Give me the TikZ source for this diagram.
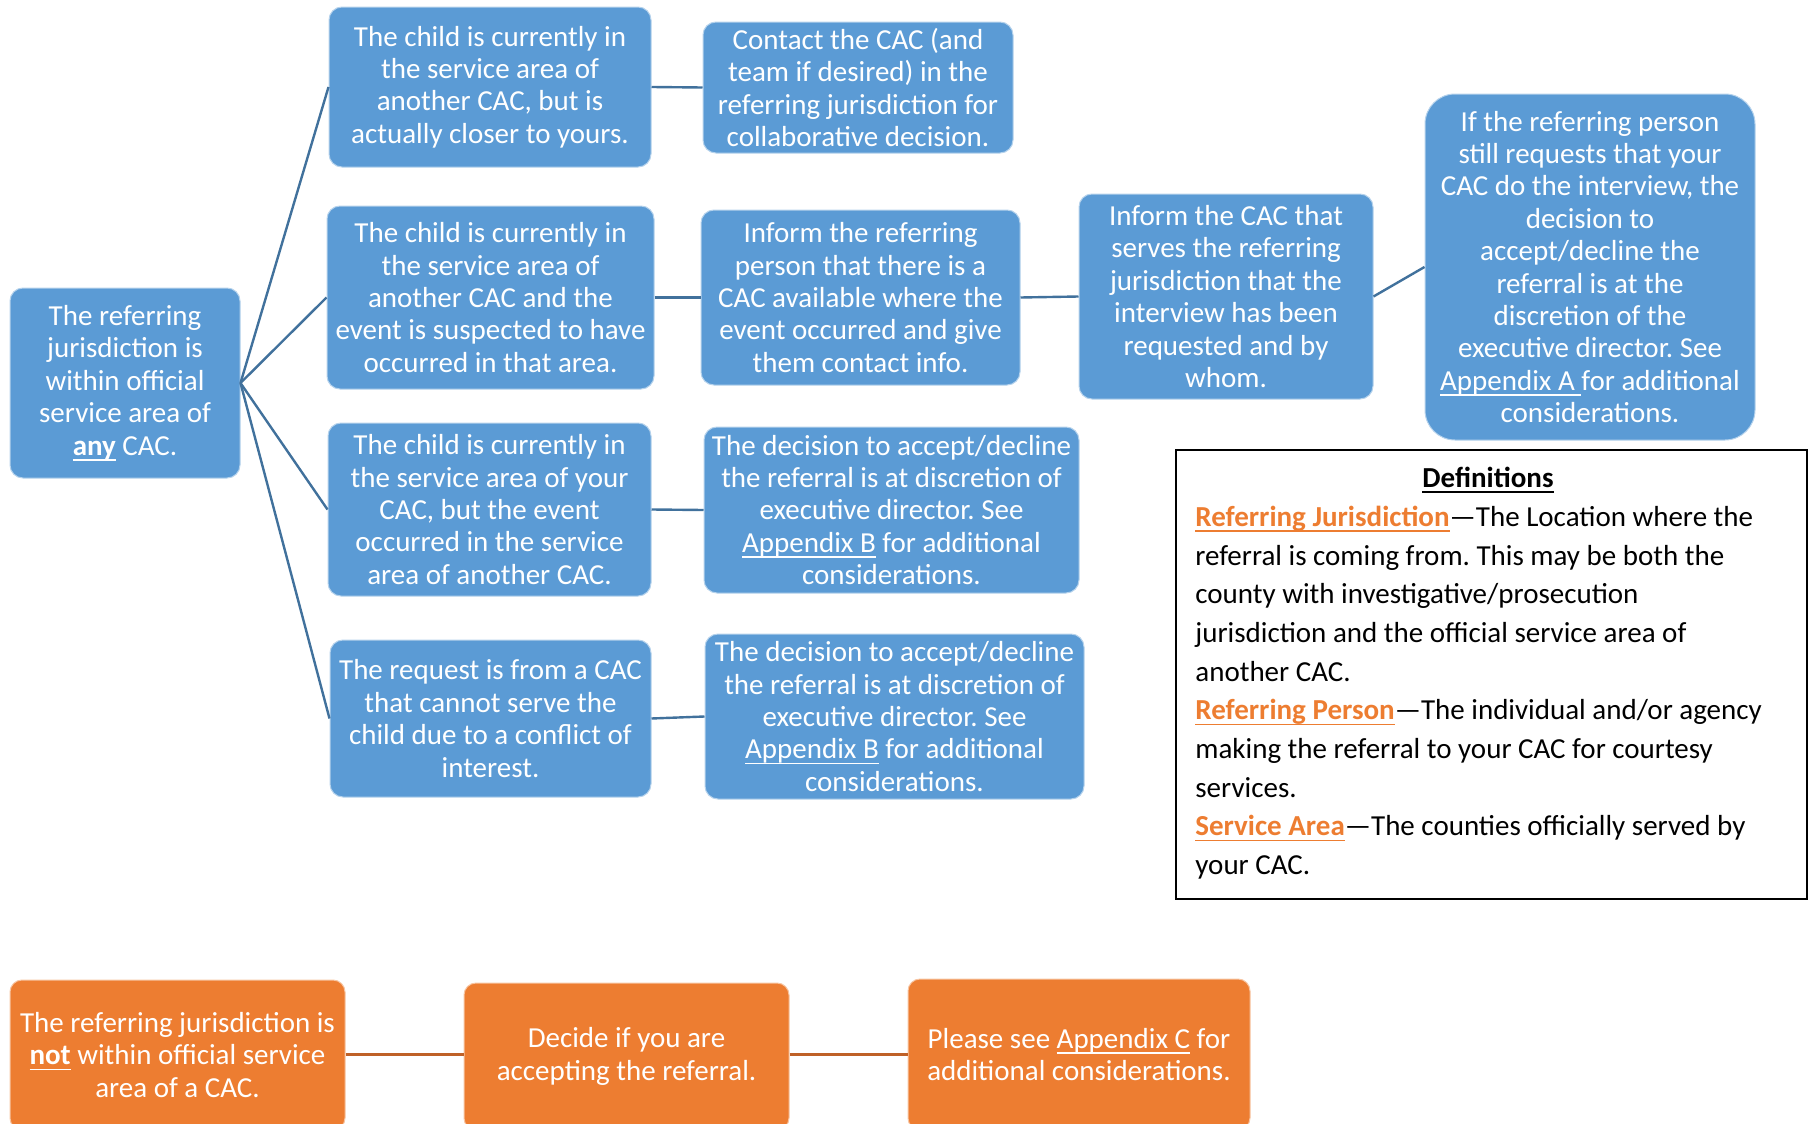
\documentclass[tikz,border=0pt]{standalone}
\usepackage{fontspec}
\setmainfont{Carlito}
\frenchspacing
\definecolor{boxblue}{HTML}{5B9BD5}
\definecolor{lineblue}{HTML}{41719C}
\definecolor{boxorange}{HTML}{ED7D31}
\definecolor{lineorange}{HTML}{BF6128}
\definecolor{termorange}{HTML}{ED7D31}
\newcommand{\myul}[1]{\setbox0\hbox{#1}\leavevmode\rlap{\rule[-2.7pt]{\wd0}{0.75pt}}\box0\relax}
\newcommand{\term}[1]{{\color{termorange}\myul{\textbf{#1}}}}
\tikzset{
  bbox/.style={fill=boxblue, draw=white!55!boxblue, line width=0.5pt, rounded corners=6.5pt,
    text=white, align=center, inner sep=0pt, font=\fontsize{14.5}{16.2}\selectfont\frenchspacing},
  obox/.style={fill=boxorange, draw=white!55!boxorange, line width=0.5pt, rounded corners=6pt,
    text=white, align=center, inner sep=0pt, font=\fontsize{14.5}{16.2}\selectfont\frenchspacing},
  bline/.style={draw=lineblue, line width=1.2pt},
  oline/.style={draw=lineorange, line width=1.5pt},
  defline/.style={anchor=base west, inner sep=0pt, font=\fontsize{14.5}{16.2}\selectfont\frenchspacing},
}
\begin{document}
\begin{tikzpicture}[x=0.5pt,y=-0.5pt]
\path[use as bounding box, clip] (0,0) rectangle (1812,1124);

% blue boxes
\node[bbox, minimum width=115pt, minimum height=95pt] (root) at (125,383)
  {The referring\\jurisdiction is\\within official\\service area of\\\myul{\textbf{any}} CAC.};
\node[bbox, minimum width=161pt, minimum height=80pt] (a1) at (490,87)
  {The child is currently in\\the service area of\\another CAC, but is\\actually closer to yours.};
\node[bbox, minimum width=163.5pt, minimum height=91.5pt] (a2) at (490.5,297.5)
  {The child is currently in\\the service area of\\another CAC and the\\event is suspected to have\\occurred in that area.};
\node[bbox, minimum width=161.5pt, minimum height=86.5pt] (a3) at (489.5,509.5)
  {The child is currently in\\the service area of your\\CAC, but the event\\occurred in the service\\area of another CAC.};
\node[bbox, minimum width=160.5pt, minimum height=78.5pt] (a4) at (490.5,718.5)
  {The request is from a CAC\\that cannot serve the\\child due to a conflict of\\interest.};
\node[bbox, minimum width=155pt, minimum height=65.5pt] (b1) at (858,87.5)
  {Contact the CAC (and\\team if desired) in the\\referring jurisdiction for\\collaborative decision.};
\node[bbox, minimum width=159.5pt, minimum height=87.5pt] (b2) at (860.5,297.5)
  {Inform the referring\\person that there is a\\CAC available where the\\event occurred and give\\them contact info.};
\node[bbox, minimum width=187.5pt, minimum height=83pt] (b3) at (891.5,510)
  {The decision to accept/decline\\the referral is at discretion of\\executive director. See\\\myul{Appendix B} for additional\\considerations.};
\node[bbox, minimum width=189.5pt, minimum height=82.5pt] (b4) at (894.5,716.5)
  {The decision to accept/decline\\the referral is at discretion of\\executive director. See\\\myul{Appendix B} for additional\\considerations.};
\node[bbox, minimum width=147pt, minimum height=102.5pt] (c2) at (1226,296.5)
  {Inform the CAC that\\serves the referring\\jurisdiction that the\\interview has been\\requested and by\\whom.};
\node[bbox, rounded corners=15pt, minimum width=165pt, minimum height=173pt] (d2) at (1590,267)
  {If the referring person\\still requests that your\\CAC do the interview, the\\decision to\\accept/decline the\\referral is at the\\discretion of the\\executive director. See\\\myul{Appendix A }for additional\\considerations.};

% blue connectors
\draw[bline] (root.east) -- (a1.west);
\draw[bline] (root.east) -- (a2.west);
\draw[bline] (root.east) -- (a3.west);
\draw[bline] (root.east) -- (a4.west);
\draw[bline] (a1.east) -- (b1.west);
\draw[bline] (a2.east) -- (b2.west);
\draw[bline] (a3.east) -- (b3.west);
\draw[bline] (a4.east) -- (b4.west);
\draw[bline] (b2.east) -- (c2.west);
\draw[bline] (c2.east) -- (d2.west);

% definitions
\node[draw=black, line width=1.2pt, minimum width=315.5pt, minimum height=224.5pt, inner sep=0pt] (defbox) at (1491.5,674.5) {};
\node[anchor=base, inner sep=0pt, font=\fontsize{14.5}{16.2}\selectfont] (deftitle) at (1488,487.5) {\myul{\textbf{Definitions}}};
\node[defline] (d1) at (1195,526.5) {\term{Referring Jurisdiction}—The Location where the};
\node[defline] (d2l) at (1195,565.2) {referral is coming from. This may be both the};
\node[defline] (d3) at (1195,603.8) {county with investigative/prosecution};
\node[defline] (d4) at (1195,642.5) {jurisdiction and the official service area of};
\node[defline] (d5) at (1195,681.2) {another CAC.};
\node[defline] (d6) at (1195,719.8) {\term{Referring Person}—The individual and/or agency};
\node[defline] (d7) at (1195,758.5) {making the referral to your CAC for courtesy};
\node[defline] (d8) at (1195,797.2) {services.};
\node[defline] (d9) at (1195,835.8) {\term{Service Area}—The counties officially served by};
\node[defline] (d10) at (1195,874.5) {your CAC.};

% orange boxes
\node[obox, minimum width=167.5pt, minimum height=75pt] (o1) at (177.5,1055)
  {The referring jurisdiction is\\\myul{\textbf{not}} within official service\\area of a CAC.};
\node[obox, minimum width=162.5pt, minimum height=73.5pt] (o2) at (626.5,1056.5)
  {Decide if you are\\accepting the referral.};
\node[obox, minimum width=171pt, minimum height=75.5pt] (o3) at (1079,1054.5)
  {Please see \myul{Appendix C} for\\additional considerations.};
\draw[oline] (o1.east |- 0,1054) -- (o2.west |- 0,1054);
\draw[oline] (o2.east |- 0,1054) -- (o3.west |- 0,1054);
\end{tikzpicture}
\end{document}
